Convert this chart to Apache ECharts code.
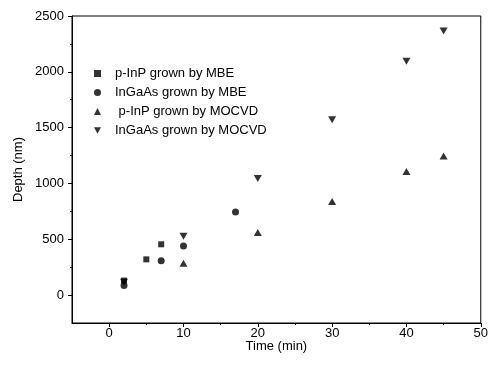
<!DOCTYPE html>
<html><head><meta charset="utf-8">
<script src="https://cdn.jsdelivr.net/npm/echarts@6/dist/echarts.min.js"></script>
<style>html,body{margin:0;padding:0;background:#fff}#c{width:491px;height:371px}</style>
</head><body><div id="c"></div>
<script>
const seriesNames = ['p-InP grown by MBE', 'InGaAs grown by MBE', ' p-InP grown by MOCVD', 'InGaAs grown by MOCVD'];
const pInpMbeX = [2, 5, 7];
const pInpMbeY = [130, 320, 455];
const ingaasMbeX = [2, 7, 10, 17];
const ingaasMbeY = [87, 307, 440, 744];
const pInpMocvdX = [10, 20, 30, 40, 45];
const pInpMocvdY = [285, 561, 838, 1108, 1245];
const ingaasMocvdX = [2, 10, 20, 30, 40, 45];
const ingaasMocvdY = [115, 528, 1045, 1570, 2095, 2365];
const xLabelValues = [0, 10, 20, 30, 40, 50];
const xMinorValues = [5, 15, 25, 35, 45];
const yLabelValues = [0, 500, 1000, 1500, 2000, 2500];
const yMinorValues = [250, 750, 1250, 1750, 2250];

const font = 'Liberation Sans, Arial, sans-serif';
const zip = (xs, ys) => xs.map((x, i) => [x, ys[i]]);
const downTri = 'path://M0,0 L10,0 L5,9 Z';
const symbols = ['rect', 'circle', 'triangle', downTri];
const sizes = [[6, 6], 7, [8, 7], [8, 7]];
const datasets = [zip(pInpMbeX, pInpMbeY), zip(ingaasMbeX, ingaasMbeY), zip(pInpMocvdX, pInpMocvdY), zip(ingaasMocvdX, ingaasMocvdY)];

const chart = echarts.init(document.getElementById('c'), null, {renderer: 'canvas'});
const baseX = {
  type: 'value', min: -5, max: 50, position: 'bottom',
  splitLine: {show: false}
};
const baseY = {
  type: 'value', min: -250, max: 2500, position: 'left',
  splitLine: {show: false}
};
chart.setOption({
  animation: false,
  grid: {left: 72, top: 16, right: 6, bottom: 48, show: true, borderColor: '#000', borderWidth: 1},
  legend: {
    orient: 'vertical', left: 94, top: 67, itemGap: 6, padding: 0,
    itemWidth: 7, itemHeight: 7,
    textStyle: {fontFamily: font, fontSize: 13, color: '#000', padding: [0, 0, 0, 9]},
    data: seriesNames.map((n, i) => ({name: n, icon: symbols[i]}))
  },
  xAxis: [
    Object.assign({}, baseX, {
      name: 'Time (min)', nameLocation: 'middle', nameGap: 17, nameMoveOverlap: false,
      nameTextStyle: {fontFamily: font, fontSize: 13, color: '#000'},
      axisLine: {onZero: false, lineStyle: {color: '#000', width: 1}},
      axisTick: {show: true, length: 4, customValues: xLabelValues, lineStyle: {color: '#000'}},
      axisLabel: {customValues: xLabelValues, margin: 4, fontFamily: font, fontSize: 13, color: '#000', formatter: v => String(v)}
    }),
    Object.assign({}, baseX, {
      axisLine: {show: false, onZero: false},
      axisTick: {show: true, length: 2, customValues: xMinorValues, lineStyle: {color: '#000'}},
      axisLabel: {show: false}
    })
  ],
  yAxis: [
    Object.assign({}, baseY, {
      name: 'Depth (nm)', nameLocation: 'middle', nameGap: 47, nameRotate: 90, nameMoveOverlap: false,
      nameTextStyle: {fontFamily: font, fontSize: 13, color: '#000'},
      axisLine: {onZero: false, lineStyle: {color: '#000', width: 1}},
      axisTick: {show: true, length: 4, customValues: yLabelValues, lineStyle: {color: '#000'}},
      axisLabel: {customValues: yLabelValues, margin: 8, fontFamily: font, fontSize: 13, color: '#000', formatter: v => String(v)}
    }),
    Object.assign({}, baseY, {
      axisLine: {show: false, onZero: false},
      axisTick: {show: true, length: 2, customValues: yMinorValues, lineStyle: {color: '#000'}},
      axisLabel: {show: false}
    })
  ],
  series: datasets.map((d, i) => ({
    name: seriesNames[i], type: 'scatter', data: d,
    xAxisIndex: 0, yAxisIndex: 0,
    symbol: symbols[i], symbolSize: sizes[i],
    itemStyle: {color: '#000'}
  }))
});
</script></body></html>
